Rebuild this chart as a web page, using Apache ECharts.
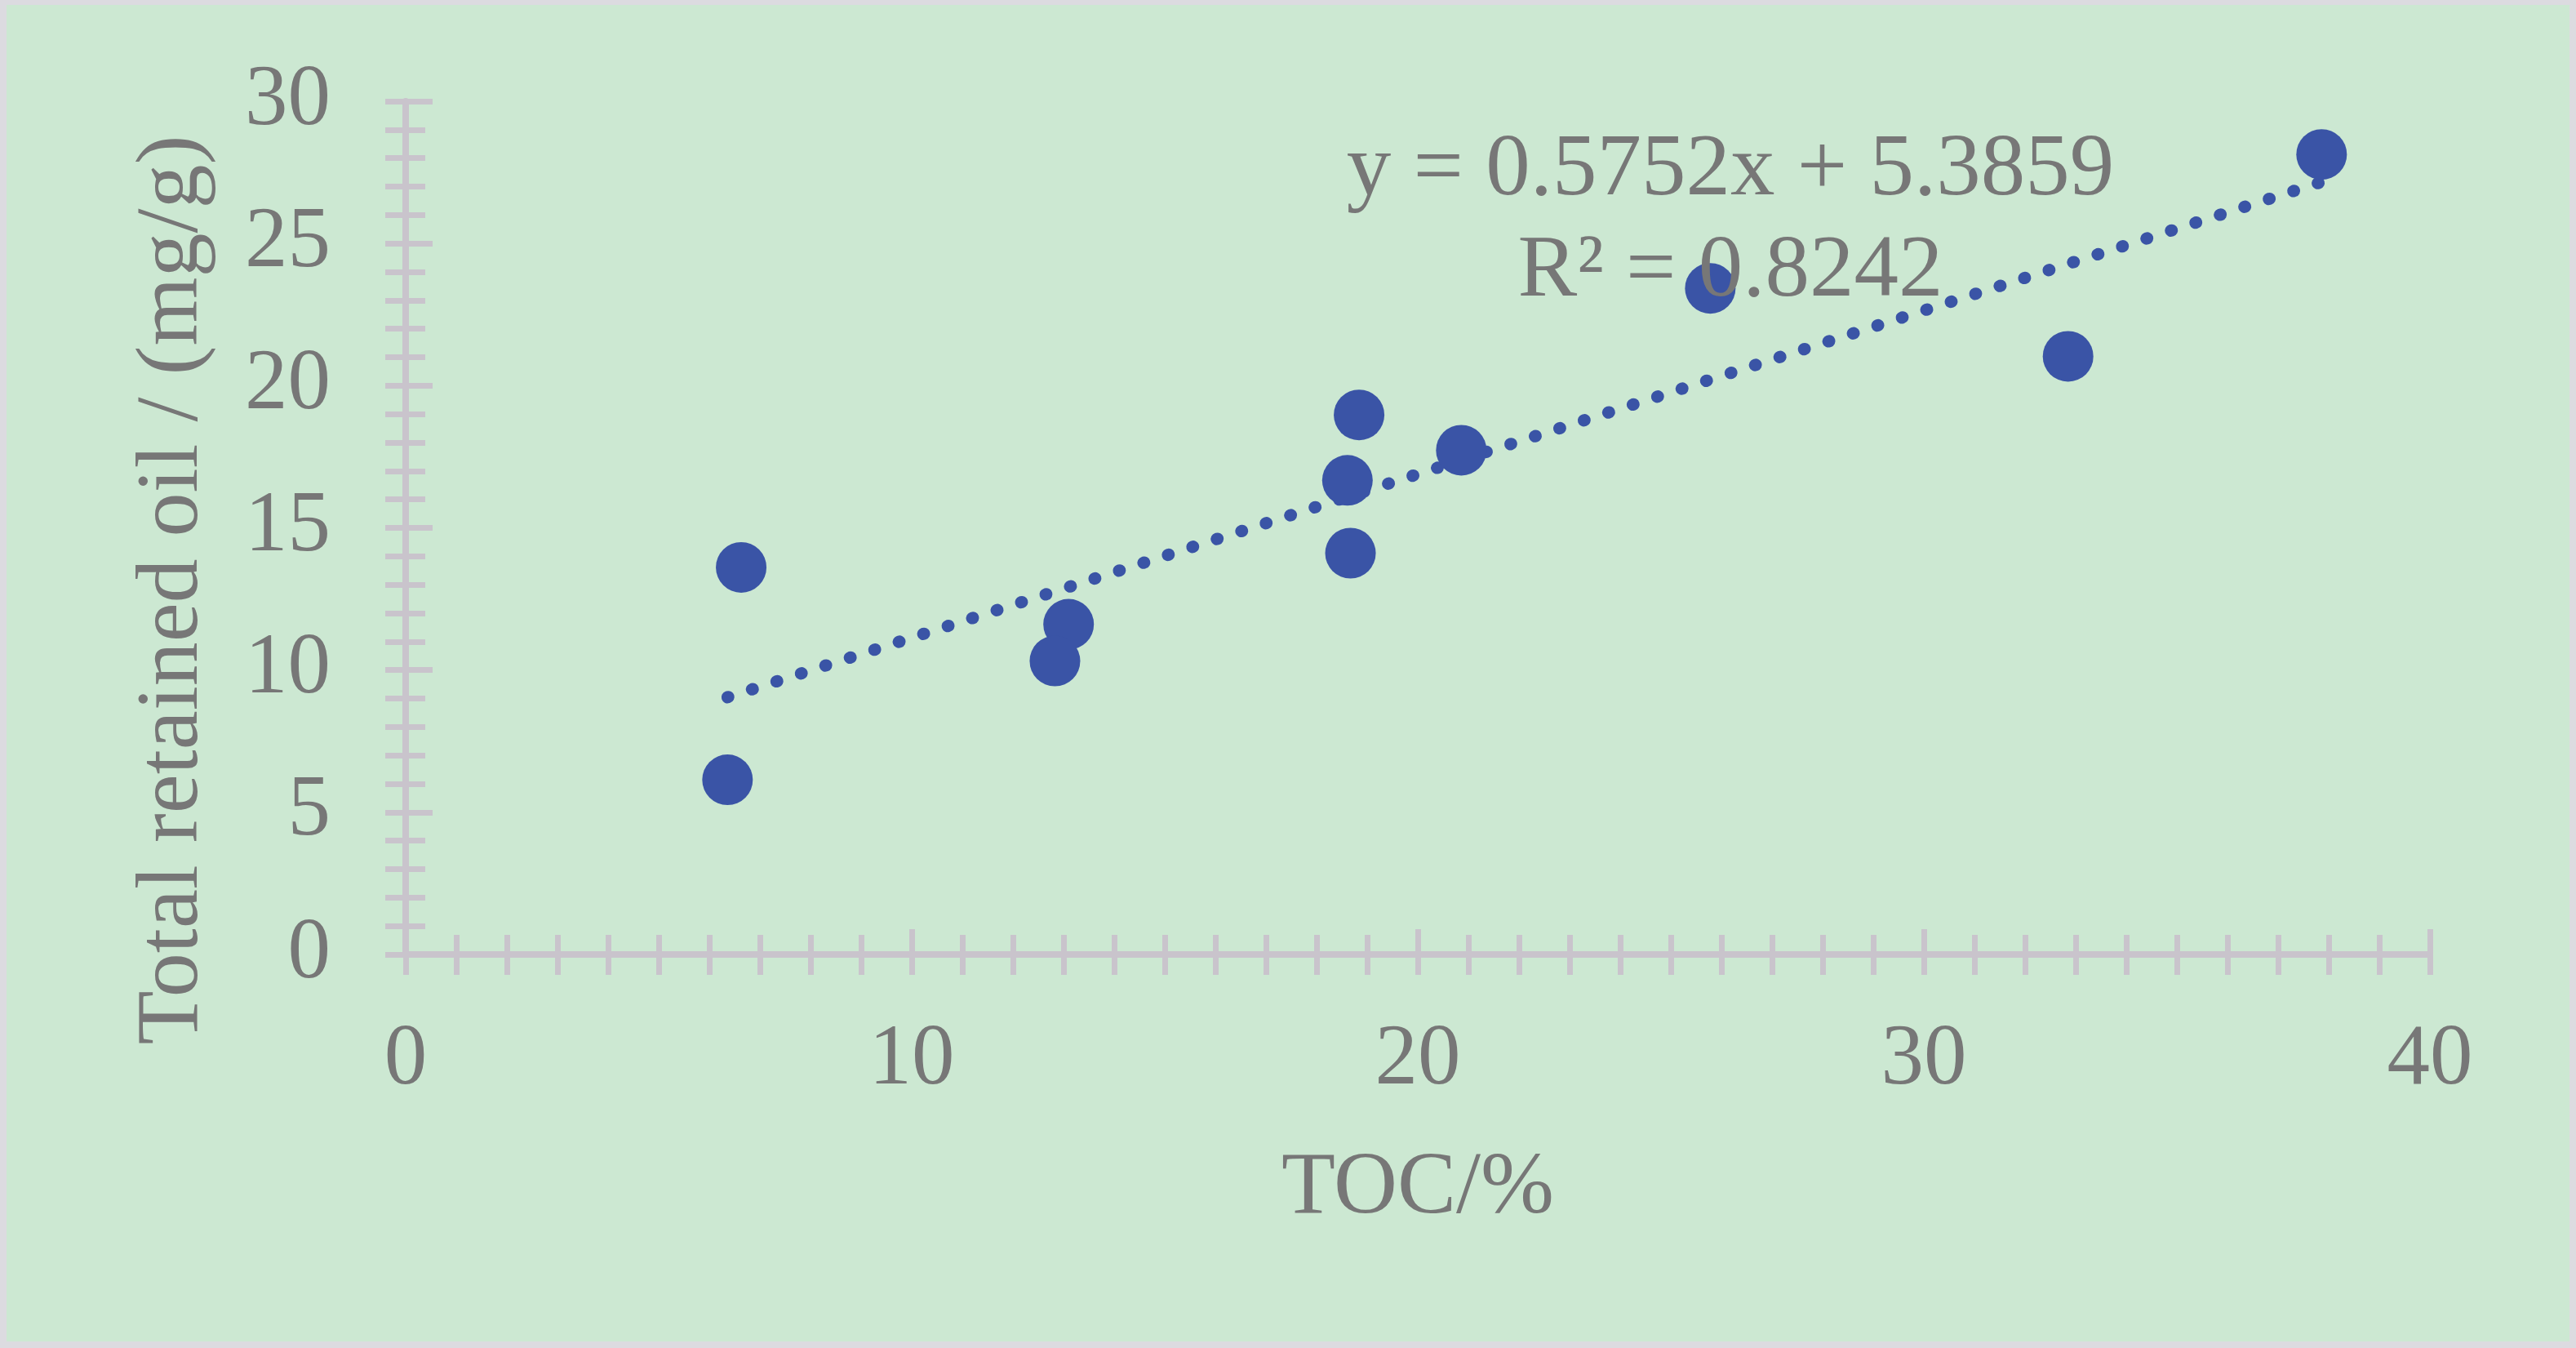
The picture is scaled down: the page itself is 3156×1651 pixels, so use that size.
<!DOCTYPE html>
<html><head><meta charset="utf-8">
<script src="https://cdn.jsdelivr.net/npm/echarts@6/dist/echarts.min.js"></script>
<style>
html,body{margin:0;padding:0;background:#dcdbe0;}
#wrap{position:relative;width:3156px;height:1651px;background:#dcdbe0;overflow:hidden;}
#chart{position:absolute;left:8px;top:6px;width:3140px;height:1637px;}
</style></head><body>
<div id="wrap"><div id="chart"></div></div>
<script>
// Data
const tocValues     = [6.63, 6.36, 13.10, 12.83, 18.84, 18.61, 18.67, 20.86, 25.78, 32.85, 37.86];
const retainedOil   = [13.61, 6.14, 11.61, 10.32, 18.97, 16.67, 14.11, 17.73, 23.42, 21.03, 28.13];
const xTickValues   = [0, 10, 20, 30, 40];
const yTickValues   = [0, 5, 10, 15, 20, 25, 30];
const trendSlope     = 0.5752;
const trendIntercept = 5.3859;
const trendR2        = 0.8242;
const xAxisTitle = 'TOC/%';
const yAxisTitle = 'Total retained oil / (mg/g)';

const FONT = "'Liberation Serif','Times New Roman',serif";
const TXT = '#777777';
const AX = '#c9c4cc';

const points = tocValues.map((x, i) => [x, retainedOil[i]]);
const xMinData = Math.min(...tocValues), xMaxData = Math.max(...tocValues);
const trendData = [[xMinData, trendSlope * xMinData + trendIntercept],
                   [xMaxData, trendSlope * xMaxData + trendIntercept]];

function axisPair(dim, ticks, minorSplit) {
  const base = {
    type: 'value',
    min: ticks[0], max: ticks[ticks.length - 1], interval: ticks[1] - ticks[0],
    position: dim === 'x' ? 'bottom' : 'left',
    splitLine: { show: false },
  };
  const outer = Object.assign({}, base, {
    axisLine: { show: true, lineStyle: { color: AX, width: 8 } },
    axisTick: { show: true, inside: false, length: 25, lineStyle: { color: AX, width: 7 } },
    minorTick: { show: true, splitNumber: minorSplit, length: 25, lineStyle: { color: AX, width: 7 } },
    axisLabel: { show: true, color: TXT, fontSize: 105, fontFamily: FONT, margin: dim === 'x' ? 78 : 92 },
    name: dim === 'x' ? xAxisTitle : yAxisTitle,
    nameLocation: 'middle',
    nameGap: dim === 'x' ? 234 : 230,
    nameRotate: dim === 'x' ? 0 : 90,
    nameTextStyle: dim === 'x'
      ? { color: TXT, fontSize: 108, fontFamily: FONT }
      : { color: TXT, fontSize: 108, fontFamily: FONT, padding: [0, 152, 0, 0] },
    z: 3
  });
  const inner = Object.assign({}, base, {
    axisLine: { show: false },
    axisTick: { show: true, inside: true, length: dim === 'x' ? 31 : 33, lineStyle: { color: AX, width: 7 } },
    minorTick: { show: true, splitNumber: minorSplit, length: 24, lineStyle: { color: AX, width: 7 } },
    axisLabel: { show: false },
    z: 3
  });
  return [outer, inner];
}

const chart = echarts.init(document.getElementById('chart'), null, { renderer: 'canvas' });
chart.setOption({
  animation: false,
  backgroundColor: '#cce8d2',
  textStyle: { fontFamily: FONT },
  grid: { left: 489, right: 171, top: 118, bottom: 474, containLabel: false },
  xAxis: axisPair('x', xTickValues, 10),
  yAxis: axisPair('y', yTickValues, 5),
  series: [
    {
      type: 'line',
      data: trendData,
      xAxisIndex: 0, yAxisIndex: 0,
      symbol: 'none',
      lineStyle: { color: '#3a54a6', width: 15, type: [1, 30.5], cap: 'round' },
      z: 2
    },
    {
      type: 'scatter',
      data: points,
      xAxisIndex: 0, yAxisIndex: 0,
      symbol: 'circle',
      symbolSize: 62,
      itemStyle: { color: '#3a54a6', opacity: 1 },
      z: 4
    }
  ],
  graphic: [
    { type: 'text', x: 2112, y: 203, z: 100,
      style: { text: 'y = ' + trendSlope + 'x + ' + trendIntercept, fontSize: 109, fontFamily: FONT, fill: TXT, align: 'center', verticalAlign: 'middle' } },
    { type: 'text', x: 2112, y: 327, z: 100,
      style: { text: 'R² = ' + trendR2, fontSize: 109, fontFamily: FONT, fill: TXT, align: 'center', verticalAlign: 'middle' } }
  ]
});
</script>
</body></html>
